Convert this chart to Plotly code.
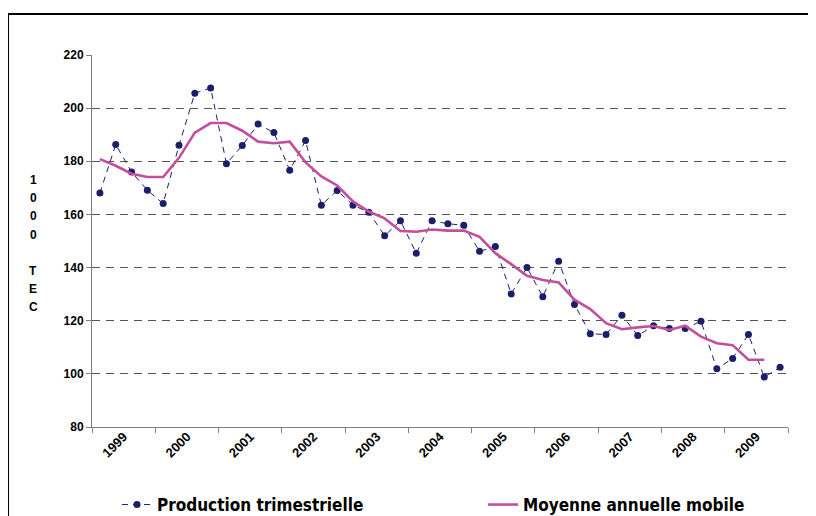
import plotly.graph_objects as go

years = ["1999", "2000", "2001", "2002", "2003", "2004", "2005", "2006", "2007", "2008", "2009"]

production = [168.1, 186.3, 176.0, 169.1, 164.1, 186.0, 205.6, 207.6, 179.1, 185.9, 194.0, 190.8,
              176.6, 187.8, 163.5, 169.0, 163.5, 160.8, 152.0, 157.6, 145.4, 157.6, 156.5, 155.9,
              146.1, 147.9, 130.1, 140.0, 129.0, 142.4, 126.1, 115.1, 114.8, 122.1, 114.4, 118.1,
              117.1, 117.1, 119.8, 101.9, 105.8, 114.8, 98.8, 102.5]

moyenne = [180.8, 178.3, 175.3, 174.1, 174.1, 181.3, 190.8, 194.4, 194.4, 191.5, 187.4, 186.8,
           187.4, 179.6, 174.3, 170.9, 164.9, 161.1, 158.5, 153.8, 153.5, 154.3, 153.9, 153.9,
           151.6, 145.4, 141.3, 136.9, 135.3, 134.4, 127.9, 124.4, 119.1, 116.8, 117.5, 118.0,
           116.5, 118.1, 114.0, 111.5, 110.8, 105.3, 105.3]

y_title_chars = ["1", "0", "0", "0", "", "T", "E", "C"]

quarters = list(range(len(production)))
q_ma = list(range(len(moyenne)))

NAVY = "#1B1F6B"
MAGENTA = "#C24F9E"
FONT = "Liberation Sans, Arial, sans-serif"
NARROW = "DejaVu Sans Condensed, Liberation Sans Narrow, Arial Narrow, Liberation Sans, sans-serif"

# figure geometry (page is offset by 8px body margin)
W, H = 808, 508
L, R, T, B = 84, 28, 47, 89
PW, PH = W - L - R, H - T - B


def px(xf):
    return (xf - L) / PW


def py(yf):
    return (H - B - yf) / PH


fig = go.Figure()
fig.add_trace(go.Scatter(
    x=quarters, y=production, mode="lines+markers",
    name="Production trimestrielle", legend="legend",
    line=dict(color=NAVY, width=1, dash="6px,5px"),
    marker=dict(color=NAVY, size=7),
))
fig.add_trace(go.Scatter(
    x=q_ma, y=moyenne, mode="lines",
    name="Moyenne annuelle mobile", legend="legend2",
    line=dict(color=MAGENTA, width=2.6),
))

n_years = len(years)
fig.update_xaxes(
    range=[-0.5, 4 * n_years - 0.5],
    tickmode="array",
    tickvals=[4 * i + 1.5 for i in range(n_years)],
    ticktext=years,
    tickangle=-45,
    ticks="",
    ticklabelstandoff=-4,
    tickfont=dict(family=FONT, size=13, color="#000", weight="bold"),
    showline=True, linecolor="#808080", linewidth=1,
    showgrid=False, zeroline=False,
    minor=dict(tickmode="array", tickvals=[4 * i - 0.5 for i in range(n_years + 1)],
               ticks="outside", ticklen=5, tickcolor="#808080", showgrid=False),
)
fig.update_yaxes(
    range=[80, 220], dtick=20, tick0=80,
    ticks="outside", ticklen=5, tickcolor="#808080",
    tickfont=dict(family=FONT, size=12, color="#000", weight="bold"),
    showline=True, linecolor="#808080", linewidth=1,
    showgrid=True, gridcolor="#555555", gridwidth=1, griddash="8px,6px",
    zeroline=False,
)

# vertical y-axis title, stacked characters
y0 = 172
for i, ch in enumerate(y_title_chars):
    if ch:
        fig.add_annotation(
            text=ch, xref="paper", yref="paper",
            x=px(25), y=py(y0 + 18.2 * i),
            showarrow=False, xanchor="center", yanchor="middle",
            font=dict(family=FONT, size=12, color="#000", weight="bold"),
        )

# outer frame
fig.add_shape(type="rect", xref="paper", yref="paper",
              x0=px(0), x1=px(830), y0=py(540), y1=py(6),
              line=dict(color="#000", width=2), layer="below")

legend_font = dict(family=NARROW, size=17, color="#000", weight="bold")
fig.update_layout(
    width=W, height=H,
    margin=dict(l=L, r=R, t=T, b=B, autoexpand=False),
    paper_bgcolor="white", plot_bgcolor="white",
    showlegend=True,
    legend=dict(orientation="h", x=px(109), y=py(497), xanchor="left", yanchor="middle",
                font=legend_font, bgcolor="rgba(0,0,0,0)"),
    legend2=dict(orientation="h", x=px(475), y=py(497), xanchor="left", yanchor="middle",
                 font=legend_font, bgcolor="rgba(0,0,0,0)"),
)

fig.write_html("out.html")
